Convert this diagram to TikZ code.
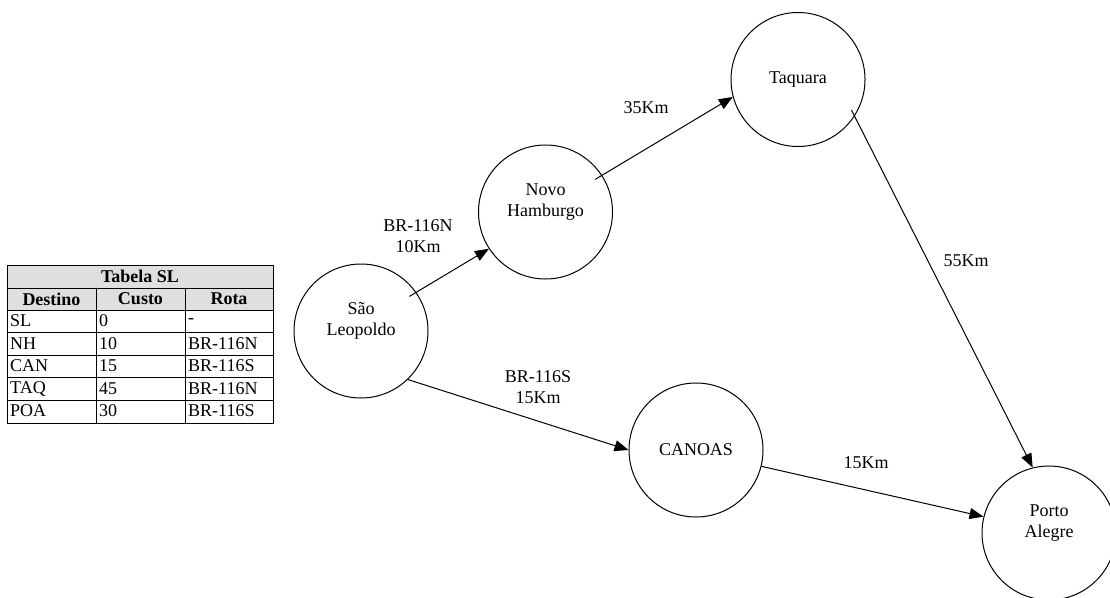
\documentclass[tikz,border=0pt]{standalone}
\usepackage{fontspec}
\setmainfont{Liberation Serif}
\usetikzlibrary{arrows.meta}
\begin{document}
\begin{tikzpicture}[x=1pt,y=-1pt,
  city/.style={circle,draw,line width=1pt,minimum size=134pt,inner sep=0pt},
  txt/.style={font=\fontsize{18}{21.6}\selectfont,align=center,inner sep=0pt},
  road/.style={line width=1pt,-{Triangle[length=14pt,width=11pt]}},
  cell/.style={font=\fontsize{18}{20}\selectfont,inner sep=0pt,anchor=west},
  hcell/.style={font=\fontsize{18}{20}\selectfont\bfseries,inner sep=0pt},
  grid/.style={line width=0.8pt},
  hfill/.style={fill=gray!25}]
\useasboundingbox (0,0) rectangle (1110,597);
% cities
\node[city] (sl)  at (361,331)   {};
\node[city] (nh)  at (545.5,212) {};
\node[city] (taq) at (798,79.5)  {};
\node[city] (can) at (696,450)   {};
\node[city] (poa) at (1049,533)  {};
\node[txt] (slt)  at (361,321)   {São\\Leopoldo};
\node[txt] (nht)  at (545.5,202) {Novo\\Hamburgo};
\node[txt] (taqt) at (798,79.5)  {Taquara};
\node[txt] (cant) at (696,450)   {CANOAS};
\node[txt] (poat) at (1049,523)  {Porto\\Alegre};
% roads
\draw[road,shorten <=-8pt] (sl.35) -- (nh.213);
\draw[road,shorten <=-8pt] (nh.33) -- (taq.195);
\draw[road,shorten <=-7pt] (taq.-33) -- (poa.104);
\draw[road] (sl.-46) -- (can.180);
\draw[road] (can.-14) -- (poa.166);
% road labels
\node[txt] (l1) at (418,236) {BR-116N\\10Km};
\node[txt] (l2) at (646,108) {35Km};
\node[txt] (l3) at (966,261) {55Km};
\node[txt] (l4) at (538,387) {BR-116S\\15Km};
\node[txt] (l5) at (866,463) {15Km};
% table
\fill[hfill] (7,265) rectangle (273,310);
\draw[grid] (7,265) rectangle (273,423);
\foreach \yy in {288,310,332.5,355,377.5,400} \draw[grid] (7,\yy) -- (273,\yy);
\foreach \xx in {96,185} \draw[grid] (\xx,288) -- (\xx,423);
\node[hcell] (tt) at (140,276.5) {Tabela SL};
\node[hcell] (h1) at (51.5,299) {Destino};
\node[hcell] (h2) at (140.5,299) {Custo};
\node[hcell] (h3) at (229,299) {Rota};
\node[cell] (a1) at (10,321)   {SL};
\node[cell] (b1) at (99,321)   {0};
\node[cell] (c1) at (188,321)  {-};
\node[cell] (a2) at (10,343.5) {NH};
\node[cell] (b2) at (99,343.5) {10};
\node[cell] (c2) at (188,343.5){BR-116N};
\node[cell] (a3) at (10,366)   {CAN};
\node[cell] (b3) at (99,366)   {15};
\node[cell] (c3) at (188,366)  {BR-116S};
\node[cell] (a4) at (10,388.5) {TAQ};
\node[cell] (b4) at (99,388.5) {45};
\node[cell] (c4) at (188,388.5){BR-116N};
\node[cell] (a5) at (10,411)   {POA};
\node[cell] (b5) at (99,411)   {30};
\node[cell] (c5) at (188,411)  {BR-116S};
\end{tikzpicture}
\end{document}
